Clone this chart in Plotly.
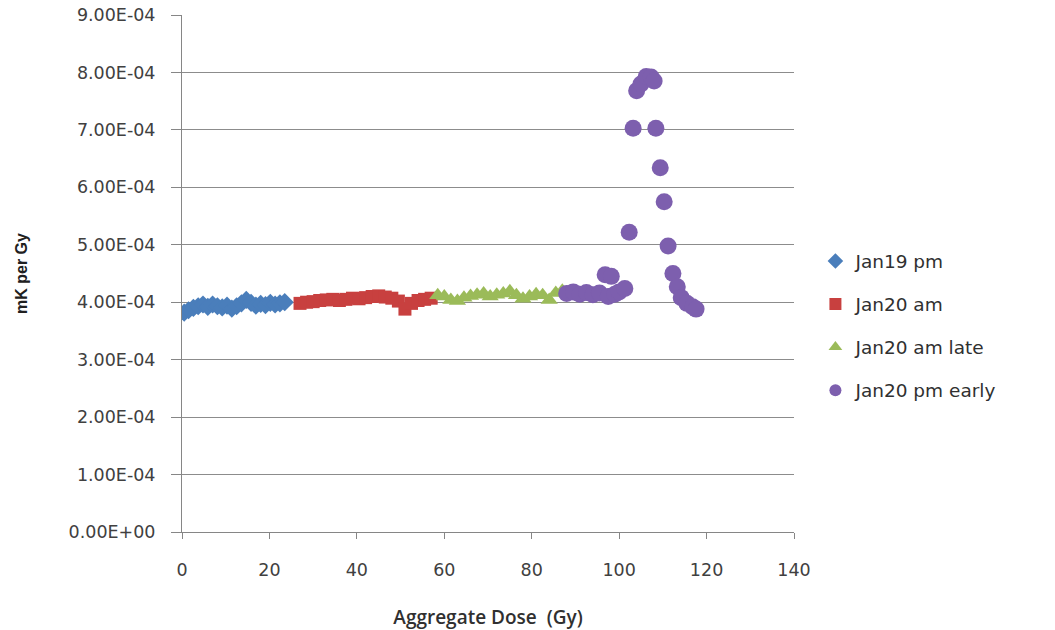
import plotly.graph_objects as go

# ---- data ----
jan19_pm_x = [0.5, 1.5, 2.6, 3.7, 4.8, 5.9, 7.0, 8.1, 9.2, 10.3, 11.4, 12.5, 13.6, 14.7,
              15.8, 16.9, 18.0, 19.1, 20.2, 21.3, 22.4, 23.5]
jan19_pm_y = [3.82, 3.86, 3.90, 3.93, 3.96, 3.92, 3.96, 3.93, 3.91, 3.94, 3.89, 3.93, 3.98, 4.04,
              3.99, 3.94, 3.97, 3.95, 3.99, 3.96, 3.98, 4.00]

jan20_am_x = [27.0, 28.5, 30.0, 31.5, 33.0, 34.5, 36.0, 37.5, 39.0, 40.5, 42.0, 43.5, 45.0,
              46.5, 48.0, 49.5, 51.0, 52.5, 54.0, 55.5, 57.0]
jan20_am_y = [3.98, 4.00, 4.01, 4.03, 4.04, 4.05, 4.03, 4.05, 4.07, 4.06, 4.08, 4.10, 4.11,
              4.09, 4.07, 4.02, 3.88, 3.98, 4.03, 4.05, 4.07]

jan20_am_late_x = [58.5, 60.0, 61.5, 63.0, 64.5, 66.0, 67.5, 69.0, 70.5, 72.0, 73.5, 75.0,
                   76.5, 78.0, 79.5, 81.0, 82.5, 84.0, 85.5, 87.0]
jan20_am_late_y = [4.12, 4.10, 4.04, 4.02, 4.08, 4.11, 4.13, 4.15, 4.10, 4.13, 4.15, 4.19,
                   4.12, 4.06, 4.10, 4.14, 4.12, 4.04, 4.16, 4.20]

jan20_pm_early_x = [88.0, 89.5, 91.0, 92.5, 94.0, 95.5, 96.8, 97.5, 98.2, 99.0, 100.0, 101.3,
                    102.3, 103.2, 104.0, 105.0, 106.2, 107.3, 108.0, 108.4, 109.4, 110.3,
                    111.2, 112.3, 113.3, 114.2, 115.5, 116.8, 117.6]
jan20_pm_early_y = [4.15, 4.18, 4.14, 4.17, 4.13, 4.16, 4.48, 4.10, 4.45, 4.14, 4.18, 4.24,
                    5.22, 7.03, 7.68, 7.80, 7.93, 7.92, 7.85, 7.03, 6.34, 5.75,
                    4.98, 4.50, 4.27, 4.08, 3.98, 3.92, 3.88]

y_scale = 1e-4
y_tick_vals = [0, 1, 2, 3, 4, 5, 6, 7, 8, 9]
y_tick_text = ["0.00E+00", "1.00E-04", "2.00E-04", "3.00E-04", "4.00E-04",
               "5.00E-04", "6.00E-04", "7.00E-04", "8.00E-04", "9.00E-04"]
x_tick_vals = [0, 20, 40, 60, 80, 100, 120, 140]

series = [
    ("Jan19 pm", jan19_pm_x, jan19_pm_y, "diamond", 14, "#4A7EBB"),
    ("Jan20 am", jan20_am_x, jan20_am_y, "square", 13, "#C8403F"),
    ("Jan20 am late", jan20_am_late_x, jan20_am_late_y, "triangle-up", 15, "#9BBB59"),
    ("Jan20 pm early", jan20_pm_early_x, jan20_pm_early_y, "circle", 17, "#7D5FAE"),
]

fig = go.Figure()
for i, (name, xs, ys, sym, sz, col) in enumerate(series):
    fig.add_trace(go.Scatter(
        x=xs, y=[v * y_scale for v in ys], mode="markers", name=name,
        legendgroup=f"g{i}",
        marker=dict(symbol=sym, size=sz, color=col, line=dict(width=0)),
    ))

tick_font = dict(family="DejaVu Sans", size=17.5, color="#404040")
fig.update_layout(
    width=1055, height=630,
    margin=dict(l=182, r=261, t=15, b=98),
    paper_bgcolor="white", plot_bgcolor="white",
    showlegend=True,
    legend=dict(x=1.035, y=0.560, xanchor="left", yanchor="top",
                font=dict(family="DejaVu Sans", size=18.5, color="#303030"),
                tracegroupgap=16, itemwidth=30, itemsizing="constant",
                bgcolor="rgba(0,0,0,0)"),
    xaxis=dict(range=[0, 140], tickvals=x_tick_vals, showgrid=False, zeroline=False,
               showline=True, linecolor="#868686", linewidth=1, automargin=False,
               ticks="outside", ticklen=6, tickcolor="#868686",
               tickfont=tick_font, ticklabelstandoff=16,
               title=dict(text="Aggregate Dose  (Gy)",
                          font=dict(family="Open Sans", size=19, color="#303030", weight=600),
                          standoff=32)),
    yaxis=dict(range=[0, 9e-4], tickvals=[v * y_scale for v in y_tick_vals],
               ticktext=y_tick_text, showgrid=True, gridcolor="#8C8C8C", gridwidth=1,
               zeroline=False, showline=True, linecolor="#868686", linewidth=1, automargin=False,
               ticks="outside", ticklen=10, tickcolor="#868686",
               tickfont=tick_font, ticklabelstandoff=12,
               title=dict(text="mK per Gy",
                          font=dict(family="Liberation Sans", size=16, color="#202020", weight="bold"),
                          standoff=36)),
)

fig.write_html("out.html")
